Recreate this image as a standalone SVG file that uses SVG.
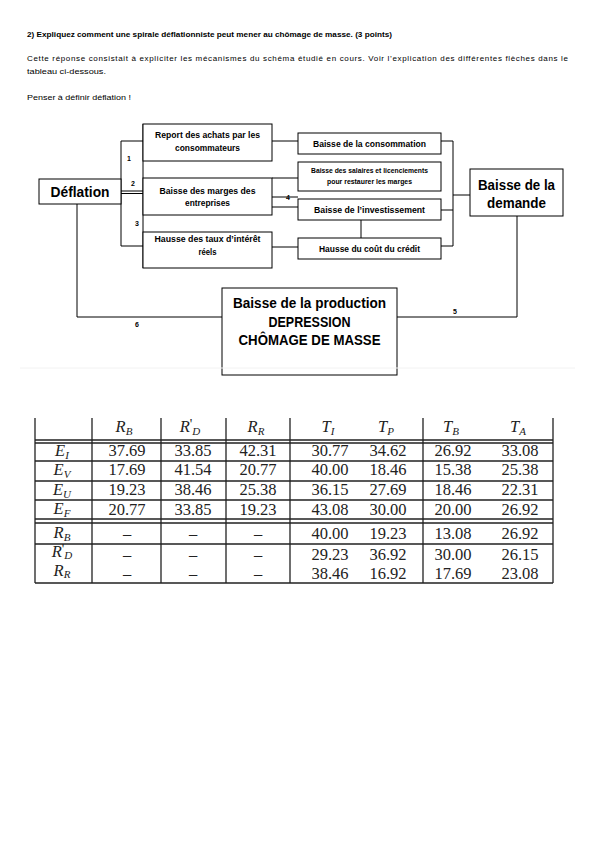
<svg xmlns="http://www.w3.org/2000/svg" width="596" height="842" viewBox="0 0 596 842">
<style>
.b{font-family:"Liberation Sans",Arial,sans-serif;font-weight:bold;fill:#000;text-anchor:middle}
.p{font-family:"Liberation Sans",Arial,sans-serif;font-size:8px;fill:#000}
.box{fill:#fff;stroke:#000;stroke-width:1}
.ln{fill:none;stroke:#000;stroke-width:1}
.lbl{font-family:"Liberation Sans",Arial,sans-serif;font-weight:bold;font-size:7px;fill:#000;text-anchor:middle}
.t{font-family:"Liberation Serif","Times New Roman",serif;font-size:16.5px;fill:#222;text-anchor:middle}
.tl{fill:none;stroke:#222;stroke-width:1.3}
.i{font-style:italic}
.pr{font-family:"Liberation Serif",serif;font-size:14px;font-style:normal}
</style>
<rect width="596" height="842" fill="#fff"/>
<g id="header">
<text class="p" x="27" y="37" font-weight="bold" textLength="365" lengthAdjust="spacingAndGlyphs">2) Expliquez comment une spirale déflationniste peut mener au chômage de masse. (3 points)</text>
<text class="p" x="27" y="61" textLength="541" lengthAdjust="spacing">Cette réponse consistait à expliciter les mécanismes du schéma étudié en cours. Voir l’explication des différentes flèches dans le</text>
<text class="p" x="27" y="74" textLength="79" lengthAdjust="spacingAndGlyphs">tableau ci-dessous.</text>
<text class="p" x="27" y="100" textLength="104" lengthAdjust="spacingAndGlyphs">Penser à définir déflation !</text>
</g>
<g id="connectors">
<path class="ln" d="M121,141 V246 M121,141 H143 M121,246 H143 M121,191 H143 M121,193.5 H143"/>
<path class="ln" d="M143,124 V268"/>
<path class="ln" d="M272,141 H298 M272,178 H298 M272,197 H298 M272,207 H298 M272,247 H298"/>
<path class="ln" d="M361,220 V238"/>
<path class="ln" d="M441,141 H453 M441,210 H453 M441,246 H453 M453,141 V246 M453,195 H470"/>
<path class="ln" d="M77,204 V317 H222"/>
<path class="ln" d="M517,216 V317"/>
<path class="ln" stroke-width="1.8" d="M397,317 H517"/>
<text class="lbl" x="129" y="161">1</text>
<text class="lbl" x="133" y="186">2</text>
<text class="lbl" x="137" y="226">3</text>
<text class="lbl" x="288" y="200">4</text>
<text class="lbl" x="455" y="314">5</text>
<text class="lbl" x="137" y="327">6</text>
</g>
<g id="deflation">
<rect class="box" x="39" y="179" width="82" height="25"/>
<text class="b" x="80" y="197" font-size="14" textLength="59" lengthAdjust="spacingAndGlyphs">Déflation</text>
</g>
<g id="report">
<rect class="box" x="143" y="124" width="129" height="37"/>
<text class="b" x="207.5" y="138" font-size="9" textLength="105" lengthAdjust="spacingAndGlyphs">Report des achats par les</text>
<text class="b" x="207.5" y="151" font-size="9" textLength="65" lengthAdjust="spacingAndGlyphs">consommateurs</text>
</g>
<g id="marges">
<rect class="box" x="143" y="178" width="129" height="37"/>
<text class="b" x="207.5" y="194" font-size="9" textLength="96" lengthAdjust="spacingAndGlyphs">Baisse des marges des</text>
<text class="b" x="207.5" y="206" font-size="9" textLength="45" lengthAdjust="spacingAndGlyphs">entreprises</text>
</g>
<g id="taux">
<rect class="box" x="143" y="232" width="129" height="36"/>
<text class="b" x="207.5" y="242" font-size="9" textLength="106" lengthAdjust="spacingAndGlyphs">Hausse des taux d’intérêt</text>
<text class="b" x="207.5" y="255" font-size="9" textLength="18" lengthAdjust="spacingAndGlyphs">réels</text>
</g>
<g id="consommation">
<rect class="box" x="298" y="133" width="143" height="21"/>
<text class="b" x="369.5" y="146.5" font-size="9" textLength="113" lengthAdjust="spacingAndGlyphs">Baisse de la consommation</text>
</g>
<g id="salaires">
<rect class="box" x="298" y="162" width="143" height="29"/>
<text class="b" x="369.5" y="173" font-size="6.5" textLength="117" lengthAdjust="spacingAndGlyphs">Baisse des salaires et licenciements</text>
<text class="b" x="369.5" y="183.5" font-size="6.5" textLength="85" lengthAdjust="spacingAndGlyphs">pour restaurer les marges</text>
</g>
<g id="investissement">
<rect class="box" x="298" y="199" width="143" height="21"/>
<text class="b" x="369.5" y="212.5" font-size="9" textLength="111" lengthAdjust="spacingAndGlyphs">Baisse de l’investissement</text>
</g>
<g id="credit">
<rect class="box" x="298" y="238" width="143" height="21"/>
<text class="b" x="369.5" y="251.5" font-size="9" textLength="101" lengthAdjust="spacingAndGlyphs">Hausse du coût du crédit</text>
</g>
<g id="demande">
<rect class="box" x="470" y="169" width="93" height="47"/>
<text class="b" x="516.5" y="190" font-size="14.5" textLength="77" lengthAdjust="spacingAndGlyphs">Baisse de la</text>
<text class="b" x="516.5" y="208" font-size="14.5" textLength="59" lengthAdjust="spacingAndGlyphs">demande</text>
</g>
<g id="production">
<rect class="box" x="222" y="288" width="175" height="87"/>
<text class="b" x="309.5" y="308" font-size="14" textLength="153" lengthAdjust="spacingAndGlyphs">Baisse de la production</text>
<text class="b" x="309.5" y="327" font-size="14" textLength="82" lengthAdjust="spacingAndGlyphs">DEPRESSION</text>
<text class="b" x="309.5" y="345" font-size="14" textLength="142" lengthAdjust="spacingAndGlyphs">CHÔMAGE DE MASSE</text>
</g>
<g id="table">
<line x1="20" y1="368" x2="575" y2="368" stroke="#f2f2f2" stroke-width="1"/>
<path class="tl" d="M35,418 V583 M553,418 V583 M92,418 V583 M161,418 V583 M226,418 V583 M290,418 V583 M423,418 V583"/>
<path class="tl" d="M35,440 H553 M35,443 H553 M35,461 H553 M35,481 H553 M35,500 H553 M35,519 H553 M35,523 H553 M35,544 H553 M35,583 H553"/>
<g class="t">
<text x="124" y="432"><tspan class="i">R</tspan><tspan class="i" font-size="11" dy="3">B</tspan></text>
<text x="190" y="432"><tspan class="i">R</tspan><tspan class="pr" dy="-3">'</tspan><tspan class="i" font-size="11" dy="6">D</tspan></text>
<text x="256" y="432"><tspan class="i">R</tspan><tspan class="i" font-size="11" dy="3">R</tspan></text>
<text x="328" y="432"><tspan class="i">T</tspan><tspan class="i" font-size="11" dy="3">I</tspan></text>
<text x="386" y="432"><tspan class="i">T</tspan><tspan class="i" font-size="11" dy="3">P</tspan></text>
<text x="451" y="432"><tspan class="i">T</tspan><tspan class="i" font-size="11" dy="3">B</tspan></text>
<text x="518" y="432"><tspan class="i">T</tspan><tspan class="i" font-size="11" dy="3">A</tspan></text>

<text x="62" y="456"><tspan class="i">E</tspan><tspan class="i" font-size="11" dy="3">I</tspan></text>
<text x="62" y="475"><tspan class="i">E</tspan><tspan class="i" font-size="11" dy="3">V</tspan></text>
<text x="62" y="495"><tspan class="i">E</tspan><tspan class="i" font-size="11" dy="3">U</tspan></text>
<text x="62" y="514"><tspan class="i">E</tspan><tspan class="i" font-size="11" dy="3">F</tspan></text>
<text x="62" y="538"><tspan class="i">R</tspan><tspan class="i" font-size="11" dy="3">B</tspan></text>
<text x="62" y="557"><tspan class="i">R</tspan><tspan class="pr" dy="-3">'</tspan><tspan class="i" font-size="11" dy="5">D</tspan></text>
<text x="62" y="576"><tspan class="i">R</tspan><tspan class="i" font-size="11" dy="2">R</tspan></text>

<text x="127" y="456">37.69</text><text x="193" y="456">33.85</text><text x="258" y="456">42.31</text><text x="330" y="456">30.77</text><text x="388" y="456">34.62</text><text x="453" y="456">26.92</text><text x="520" y="456">33.08</text>
<text x="127" y="475">17.69</text><text x="193" y="475">41.54</text><text x="258" y="475">20.77</text><text x="330" y="475">40.00</text><text x="388" y="475">18.46</text><text x="453" y="475">15.38</text><text x="520" y="475">25.38</text>
<text x="127" y="495">19.23</text><text x="193" y="495">38.46</text><text x="258" y="495">25.38</text><text x="330" y="495">36.15</text><text x="388" y="495">27.69</text><text x="453" y="495">18.46</text><text x="520" y="495">22.31</text>
<text x="127" y="515">20.77</text><text x="193" y="515">33.85</text><text x="258" y="515">19.23</text><text x="330" y="515">43.08</text><text x="388" y="515">30.00</text><text x="453" y="515">20.00</text><text x="520" y="515">26.92</text>
<text x="127" y="539">–</text><text x="193" y="539">–</text><text x="258" y="539">–</text><text x="330" y="539">40.00</text><text x="388" y="539">19.23</text><text x="453" y="539">13.08</text><text x="520" y="539">26.92</text>
<text x="127" y="560">–</text><text x="193" y="560">–</text><text x="258" y="560">–</text><text x="330" y="560">29.23</text><text x="388" y="560">36.92</text><text x="453" y="560">30.00</text><text x="520" y="560">26.15</text>
<text x="127" y="579">–</text><text x="193" y="579">–</text><text x="258" y="579">–</text><text x="330" y="579">38.46</text><text x="388" y="579">16.92</text><text x="453" y="579">17.69</text><text x="520" y="579">23.08</text>
</g>
</g>
</svg>
